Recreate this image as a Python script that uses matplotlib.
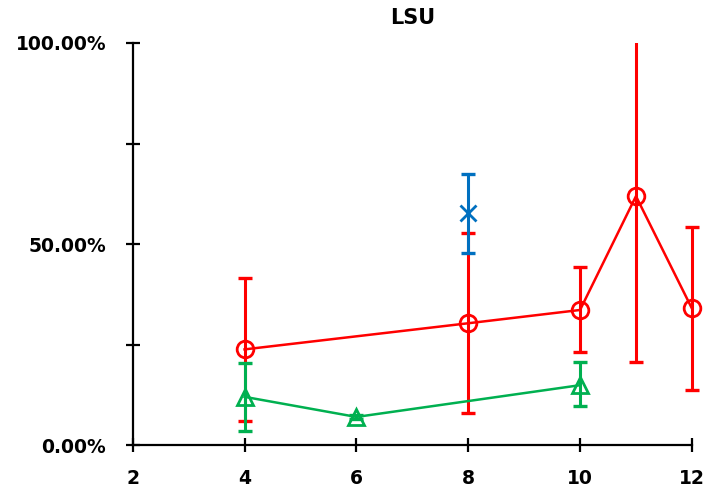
import matplotlib
matplotlib.use('Agg')
import matplotlib.pyplot as plt
from matplotlib.patches import Rectangle
from matplotlib.ticker import FixedLocator, FuncFormatter

# red circles
red_x = [4, 8, 10, 11, 12]
red_y = [23.8, 30.3, 33.6, 61.9, 34.0]
red_lo = [6.1, 7.9, 23.2, 20.6, 13.7]
red_hi = [41.5, 52.8, 44.2, 105.0, 54.3]

# green triangles
green_x = [4, 6, 10]
green_y = [12.0, 7.0, 14.9]
green_lo = [3.5, 6.5, 9.7]
green_hi = [20.3, 7.5, 20.6]

# blue cross
blue_x = [8]
blue_y = [57.6]
blue_lo = [47.7]
blue_hi = [67.3]

fig = plt.figure(figsize=(7.06, 4.94), dpi=100)
ax = fig.add_axes([0.188, 0.099, 0.792, 0.814])

# clip at the top of the plot only, let marks at x=12 spill past the right edge
clip = Rectangle((-0.1, -0.1), 1.2, 1.1, transform=ax.transAxes,
                 facecolor='none', edgecolor='none')
ax.add_patch(clip)


def draw(xs, ys, lo, hi, color, marker, line=True):
    err = [[y - l for y, l in zip(ys, lo)], [h - y for y, h in zip(ys, hi)]]
    eb = ax.errorbar(xs, ys, yerr=err, fmt='none', ecolor=color, elinewidth=2.2,
                     capsize=5, capthick=2.4, zorder=2)
    ln, = ax.plot(xs, ys, color=color, lw=1.8 if line else 0, marker=marker,
                  markersize=12, markerfacecolor='none', markeredgecolor=color,
                  markeredgewidth=2, zorder=3)
    for a in [ln] + list(eb.lines[1]) + list(eb.lines[2]):
        a.set_clip_path(clip)


draw(red_x, red_y, red_lo, red_hi, '#FF0000', 'o')
draw(green_x, green_y, green_lo, green_hi, '#00B050', '^')
draw(blue_x, blue_y, blue_lo, blue_hi, '#0070C0', 'x', line=False)

ax.set_xlim(2, 12)
ax.set_ylim(0, 100)
ax.set_xticks([2, 4, 6, 8, 10, 12])
ax.yaxis.set_major_locator(FixedLocator([0, 25, 50, 75, 100]))
ax.yaxis.set_major_formatter(FuncFormatter(lambda v, p: '%.2f%%' % v if v % 50 == 0 else ''))

for s in ['top', 'right']:
    ax.spines[s].set_visible(False)
for s in ['left', 'bottom']:
    ax.spines[s].set_linewidth(1.6)
ax.tick_params(direction='inout', length=10, width=1.6, labelsize=13.5)
ax.tick_params(axis='y', pad=14)
ax.tick_params(axis='x', pad=12)
for lab in ax.get_xticklabels() + ax.get_yticklabels():
    lab.set_fontweight('bold')

ax.set_title('LSU', fontsize=15, fontweight='bold', pad=14)

fig.savefig('out.png', dpi=100)
